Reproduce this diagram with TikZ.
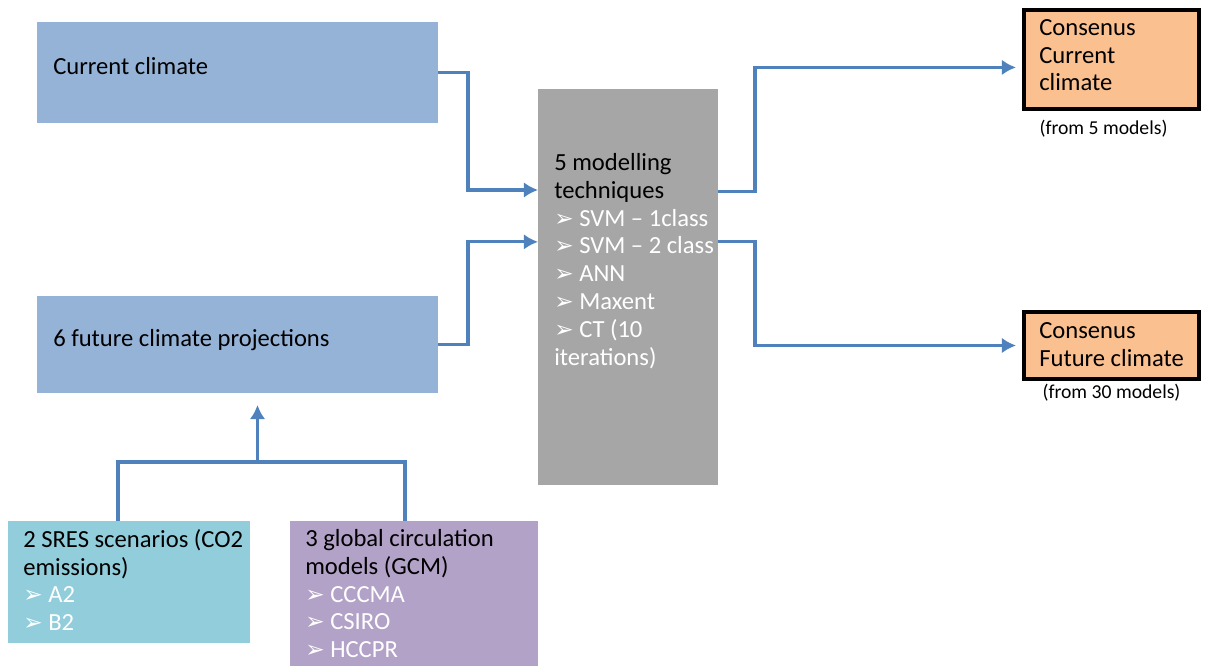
\documentclass[tikz,border=0pt]{standalone}
\usepackage{fontspec}
\setmainfont{Carlito}
\newfontfamily\dingfont{DejaVu Sans}
\usetikzlibrary{arrows.meta,positioning,fit,calc}
\definecolor{projblue}{RGB}{149,179,215}
\definecolor{techgray}{RGB}{166,166,166}
\definecolor{consorange}{RGB}{250,192,144}
\definecolor{sresteal}{RGB}{146,205,220}
\definecolor{gcmpurple}{RGB}{179,162,199}
\definecolor{linkblue}{RGB}{79,129,189}
\newcommand{\bul}{{\dingfont\fontsize{16.5}{16.5}\selectfont ➢}\ }
\newcommand{\wline}[1]{\textcolor{white}{\bul #1}}

\begin{document}
\begin{tikzpicture}[
        x=0.025cm,y=-0.025cm,
        box/.style={inner sep=0pt,outer sep=0pt},
        projbox/.style={box,fill=projblue},
        techbox/.style={box,fill=techgray},
        consbox/.style={box,fill=consorange,draw=black,line width=0.1cm},
        sresbox/.style={box,fill=sresteal},
        gcmbox/.style={box,fill=gcmpurple},
        txt/.style={inner sep=0pt,align=left,anchor=north west,
                    font=\fontsize{17.5}{19.8}\selectfont},
        note/.style={inner sep=0pt,font=\fontsize{14}{16}\selectfont},
        conn/.style={linkblue,line width=2.3pt},
        arr/.style={conn,-{Latex[length=10pt,width=11pt]}},
      ]
        \useasboundingbox (0,0) rectangle (1207,666);
        \node[projbox,fit={(37,22) (438,123)}](cur){};
        \node[projbox,fit={(37,296) (438,393)}](fut){};
        \node[techbox,fit={(538,89) (718,485)}](tech){};
        \node[consbox,fit={(1024,10) (1199,109)}](conscur){};
        \node[consbox,fit={(1024,312) (1199,379)}](consfut){};
        \node[sresbox,fit={(8,521) (250,643)}](sres){};
        \node[gcmbox,fit={(290,521) (538,666)}](gcm){};

        \node[txt,anchor=west](curtxt) at ($(cur.west)+(16,-6)$){Current climate};
        \node[txt,anchor=west](futtxt) at ($(fut.west)+(16,-4)$){6 future climate projections};
        \node[txt](techtxt) at ($(tech.north west)+(16,64)$){5 modelling\\techniques\\
          \wline{SVM -- 1class}\\\wline{SVM -- 2 class}\\\wline{ANN}\\
          \wline{Maxent}\\\wline{CT (10}\\\textcolor{white}{iterations)}};
        \node[txt](conscurtxt) at ($(conscur.north west)+(15,9)$){Consenus\\Current\\climate};
        \node[txt](consfuttxt) at ($(consfut.north west)+(15,10)$){Consenus\\Future climate};
        \node[txt](srestxt) at ($(sres.north west)+(15,8)$){2 SRES scenarios (CO2\\emissions)\\
          \wline{A2}\\\wline{B2}};
        \node[txt](gcmtxt) at ($(gcm.north west)+(15,8)$){3 global circulation\\models (GCM)\\
          \wline{CCCMA}\\\wline{CSIRO}\\\wline{HCCPR}};
        \node[note,below=0.27cm of conscur,xshift=-0.2cm](conscurnote){(from 5 models)};
        \node[note,below=0.12cm of consfut](consfutnote){(from 30 models)};

        \coordinate(join) at ($(fut.south)+(20,69)$);
        \draw[arr](cur.east)--++(30,0)|-($(tech.north west)!0.255!(tech.south west)$);
        \draw[arr](fut.east)--++(30,0)|-($(tech.north west)!0.386!(tech.south west)$);
        \draw[arr,shorten >=0.2cm]($(tech.north east)!0.258!(tech.south east)$)--++(37,0)
          |-($(conscur.north west)!0.58!(conscur.south west)$);
        \draw[arr,shorten >=0.2cm]($(tech.north east)!0.386!(tech.south east)$)--++(37,0)
          |-(consfut.west);
        \draw[conn]($(sres.north)+(-11,0)$)|-(join)-|($(gcm.north)+(-9,0)$);
        \draw[arr,shorten >=0.3cm](join)--(join |- fut.south);
      \end{tikzpicture}
\end{document}
